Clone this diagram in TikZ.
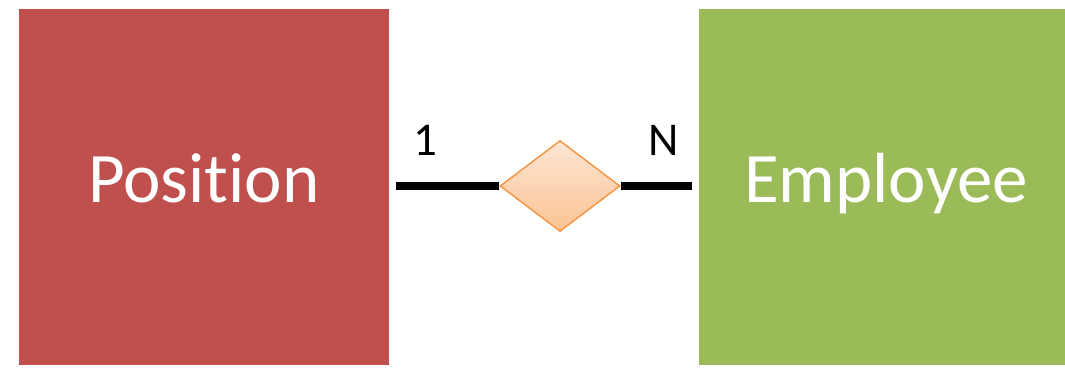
\documentclass[tikz,border=0pt]{standalone}
\usepackage{fontspec}
\setmainfont[Ligatures={NoCommon}]{Carlito}
\usetikzlibrary{shapes.geometric,shadows}

\definecolor{posred}{HTML}{C0504D}
\definecolor{empgreen}{HTML}{9BBB59}
\definecolor{relorange}{HTML}{F79646}
\definecolor{reltop}{HTML}{FDE6D4}
\definecolor{relbottom}{HTML}{FBC393}

\tikzset{
  entity/.style={
    rectangle,
    minimum width=377pt,
    minimum height=363pt,
    draw=white,
    line width=7pt,
    text=white,
    text height=45pt,
    text depth=15pt,
    font=\fontsize{71}{85}\selectfont,
    drop shadow={shadow xshift=1pt, shadow yshift=-1.5pt, fill=black!30}
  },
  card/.style={inner sep=0pt, font=\fontsize{47}{56}\selectfont}
}

\begin{document}
\begin{tikzpicture}[x=1pt, y=-1pt]
  \useasboundingbox[fill=white] (0, 0) rectangle (1065, 373);

  \node[entity, fill=posred] (position) at (204, 187) {Position};
  \node[entity, fill=empgreen, minimum width=381pt] (employee) at (886, 187) {Employee};
  \node[
    diamond,
    minimum width=120pt,
    minimum height=91pt,
    inner sep=0pt,
    draw=relorange,
    line width=1.5pt,
    top color=reltop,
    bottom color=relbottom
  ] (rel) at (560, 186) {};

  \draw[line width=8pt] (position.east |- rel) -- (rel)
    node[card, pos=0.28, above=27pt] {1};
  \draw[line width=8pt] (rel) -- (rel -| employee.west)
    node[card, pos=0.6, above=27pt] {N};

\end{tikzpicture}
\end{document}
